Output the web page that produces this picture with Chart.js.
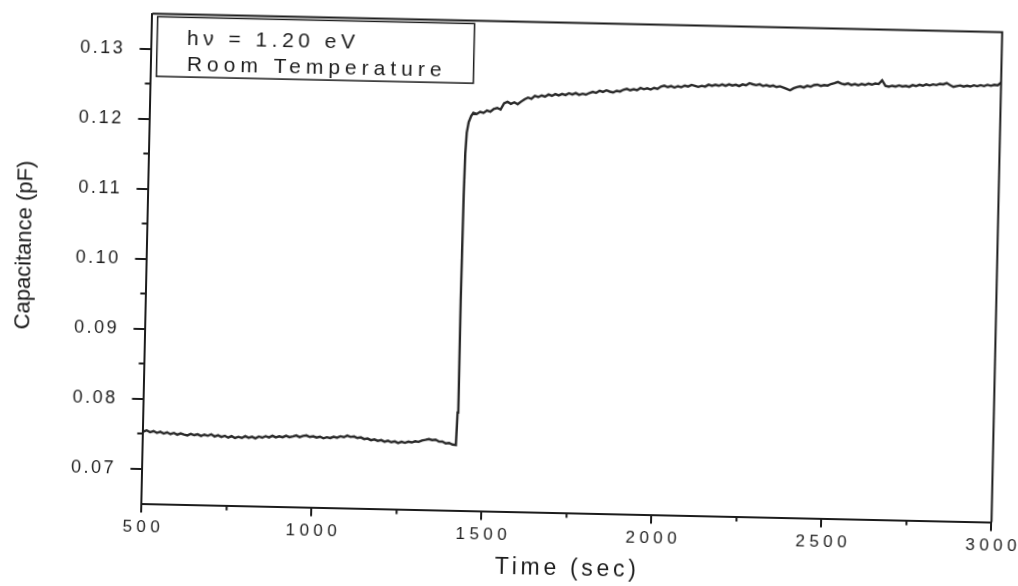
<!DOCTYPE html>
<html>
<head>
<meta charset="utf-8">
<script src="https://cdn.jsdelivr.net/npm/chart.js@4.4.1/dist/chart.umd.min.js"></script>
<style>
  html, body { margin: 0; padding: 0; background: #fff; overflow: hidden; width: 1018px; height: 586px; }
  #plot { display: block; transform: rotate(1.25deg); transform-origin: 509px 293px; }
</style>
</head>
<body>
<canvas id="plot" width="1040" height="600"></canvas>
<script>
// Photo-capacitance transient, hv = 1.20 eV, room temperature
const timeSec = [
  500, 510, 520, 530, 540, 550, 560, 570, 580, 590, 600, 610, 620, 630, 640, 650,
  660, 670, 680, 690, 700, 710, 720, 730, 740, 750, 760, 770, 780, 790, 800, 810,
  820, 830, 840, 850, 860, 870, 880, 890, 900, 910, 920, 930, 940, 950, 960, 970,
  980, 990, 1000, 1010, 1020, 1030, 1040, 1050, 1060, 1070, 1080, 1090, 1100, 1110,
  1120, 1130, 1140, 1150, 1160, 1170, 1180, 1190, 1200, 1210, 1220, 1230, 1240,
  1250, 1260, 1270, 1280, 1290, 1300, 1310, 1320, 1330, 1340, 1350, 1360, 1370,
  1380, 1390, 1400, 1410, 1420,
  1423, 1425, 1427, 1429, 1432, 1437, 1444,
  1450, 1460, 1470, 1480, 1490, 1500, 1510, 1520, 1530, 1540, 1550, 1560, 1570,
  1580, 1590, 1600, 1610, 1620, 1630, 1640, 1650, 1660, 1670, 1680, 1690, 1700,
  1710, 1720, 1730, 1740, 1750, 1760, 1770, 1780, 1790, 1800, 1810, 1820, 1830,
  1840, 1850, 1860, 1870, 1880, 1890, 1900, 1910, 1920, 1930, 1940, 1950, 1960,
  1970, 1980, 1990, 2000, 2010, 2020, 2030, 2040, 2050, 2060, 2070, 2080, 2090,
  2100, 2110, 2120, 2130, 2140, 2150, 2160, 2170, 2180, 2190, 2200, 2210, 2220,
  2230, 2240, 2250, 2260, 2270, 2280, 2290, 2300, 2310, 2320, 2330, 2340, 2350,
  2360, 2370, 2380, 2390, 2400, 2410, 2420, 2430, 2440, 2450, 2460, 2470, 2480,
  2490, 2500, 2510, 2520, 2530, 2540, 2550, 2560, 2570, 2580, 2590, 2600, 2610,
  2620, 2630, 2640, 2650, 2660, 2670, 2680, 2690, 2700, 2710, 2720, 2730, 2740,
  2750, 2760, 2770, 2780, 2790, 2800, 2810, 2820, 2830, 2840, 2850, 2860, 2870,
  2880, 2890, 2900, 2910, 2920, 2930, 2940, 2950, 2960, 2970, 2980, 2990, 3000
];
const capacitance = [
  0.07530, 0.07548, 0.07522, 0.07540, 0.07515, 0.07532, 0.07508, 0.07526, 0.07502, 0.07520,
  0.07496, 0.07515, 0.07500, 0.07488, 0.07512, 0.07494, 0.07508, 0.07486, 0.07505, 0.07490,
  0.07512, 0.07482, 0.07500, 0.07478, 0.07495, 0.07470, 0.07492, 0.07466, 0.07484, 0.07470,
  0.07496, 0.07475, 0.07490, 0.07468, 0.07495, 0.07480, 0.07502, 0.07485, 0.07510, 0.07488,
  0.07505, 0.07492, 0.07515, 0.07496, 0.07508, 0.07522, 0.07500, 0.07518, 0.07526, 0.07505,
  0.07515, 0.07498, 0.07512, 0.07490, 0.07506, 0.07495, 0.07515, 0.07502, 0.07524, 0.07512,
  0.07535, 0.07518, 0.07526, 0.07505, 0.07515, 0.07492, 0.07500, 0.07478, 0.07490, 0.07470,
  0.07482, 0.07460, 0.07476, 0.07455, 0.07468, 0.07446, 0.07464, 0.07450, 0.07468, 0.07458,
  0.07476, 0.07468, 0.07490, 0.07500, 0.07512, 0.07498, 0.07505, 0.07478, 0.07482, 0.07455,
  0.07462, 0.07440, 0.07436,
  0.07900, 0.09500, 0.11000, 0.11600, 0.11900, 0.12050, 0.12140,
  0.12185, 0.12170, 0.12200, 0.12188, 0.12222, 0.12205, 0.12248, 0.12262, 0.12240, 0.12330,
  0.12352, 0.12325, 0.12348, 0.12322, 0.12360, 0.12395, 0.12420, 0.12402, 0.12445, 0.12430,
  0.12455, 0.12438, 0.12470, 0.12452, 0.12478, 0.12460, 0.12482, 0.12468, 0.12495, 0.12478,
  0.12500, 0.12475, 0.12492, 0.12480, 0.12505, 0.12522, 0.12508, 0.12540, 0.12525, 0.12548,
  0.12530, 0.12520, 0.12545, 0.12535, 0.12562, 0.12575, 0.12555, 0.12572, 0.12560, 0.12592,
  0.12575, 0.12590, 0.12572, 0.12598, 0.12585, 0.12618, 0.12632, 0.12612, 0.12628, 0.12608,
  0.12630, 0.12615, 0.12640, 0.12628, 0.12652, 0.12640, 0.12625, 0.12642, 0.12632, 0.12660,
  0.12645, 0.12662, 0.12648, 0.12668, 0.12650, 0.12672, 0.12655, 0.12668, 0.12650, 0.12675,
  0.12662, 0.12695, 0.12680, 0.12668, 0.12682, 0.12658, 0.12672, 0.12655, 0.12668, 0.12648,
  0.12660, 0.12642, 0.12625, 0.12605, 0.12635, 0.12652, 0.12665, 0.12650, 0.12675, 0.12662,
  0.12688, 0.12695, 0.12678, 0.12690, 0.12685, 0.12708, 0.12720, 0.12740, 0.12718, 0.12705,
  0.12722, 0.12700, 0.12715, 0.12698, 0.12718, 0.12705, 0.12725, 0.12712, 0.12730, 0.12722,
  0.12778, 0.12700, 0.12688, 0.12702, 0.12692, 0.12710, 0.12695, 0.12705, 0.12692, 0.12718,
  0.12705, 0.12725, 0.12712, 0.12732, 0.12718, 0.12735, 0.12725, 0.12745, 0.12738, 0.12758,
  0.12730, 0.12705, 0.12718, 0.12728, 0.12712, 0.12725, 0.12715, 0.12735, 0.12722, 0.12738,
  0.12725, 0.12745, 0.12732, 0.12748, 0.12740, 0.12780
];

const xTicks = [500, 1000, 1500, 2000, 2500, 3000];
const xTickLabels = ['500', '1000', '1500', '2000', '2500', '3000'];
const xMinorTicks = [750, 1250, 1750, 2250, 2750];
const yTicks = [0.07, 0.08, 0.09, 0.10, 0.11, 0.12, 0.13];
const yTickLabels = ['0.07', '0.08', '0.09', '0.10', '0.11', '0.12', '0.13'];
const yMinorTicks = [0.075, 0.085, 0.095, 0.105, 0.115, 0.125];
const noteLines = ['h\u03bd = 1.20 eV', 'Room Temperature'];

const INK = '#1c1c1c';
const FONT = '"Liberation Sans", Arial, sans-serif';
Chart.defaults.font.family = FONT;
Chart.defaults.color = INK;

// run a scale drawing method with its own letter spacing and a small shift
function spaced(scale, method, spacing, dx, dy) {
  const orig = scale[method].bind(scale);
  scale[method] = function (area) {
    const c = scale.ctx;
    c.save();
    c.letterSpacing = spacing;
    c.translate(dx, dy);
    orig(area);
    c.restore();
  };
}

const frameAndNotes = {
  id: 'frameAndNotes',
  afterLayout(chart) {
    const { x, y } = chart.scales;
    if (!x._spaced) {
      spaced(x, 'drawLabels', '4.5px', 2.2, 0);
      spaced(x, 'drawTitle', '3.7px', 1.8, 0);
      x._spaced = true;
    }
    if (!y._spaced) {
      spaced(y, 'drawLabels', '2.5px', 0, 0);
      spaced(y, 'drawTitle', '0px', 0, -11);
      y._spaced = true;
    }
  },
  afterDraw(chart) {
    const { ctx, chartArea: a, scales: { x, y } } = chart;
    ctx.save();
    ctx.strokeStyle = INK;
    ctx.lineWidth = 2;
    // top and right edges of the frame
    ctx.beginPath();
    ctx.moveTo(a.left, a.top);
    ctx.lineTo(a.right, a.top);
    ctx.lineTo(a.right, a.bottom);
    ctx.stroke();
    // minor ticks
    ctx.beginPath();
    xMinorTicks.forEach(v => {
      const px = x.getPixelForValue(v);
      ctx.moveTo(px, a.bottom);
      ctx.lineTo(px, a.bottom + 5);
    });
    yMinorTicks.forEach(v => {
      const py = y.getPixelForValue(v);
      ctx.moveTo(a.left, py);
      ctx.lineTo(a.left - 6, py);
    });
    ctx.stroke();
    // note box
    const bx = a.left + 5.3, by = a.top + 2.8;
    ctx.lineWidth = 1.5;
    ctx.strokeRect(bx, by, 317, 59.7);
    ctx.fillStyle = INK;
    ctx.font = '21px ' + FONT;
    ctx.textAlign = 'left';
    ctx.textBaseline = 'alphabetic';
    ctx.letterSpacing = '4.5px';
    ctx.fillText(noteLines[0], bx + 29.8, by + 27.6);
    ctx.letterSpacing = '5px';
    ctx.fillText(noteLines[1], bx + 30.2, by + 53.3);
    ctx.restore();
  }
};

new Chart(document.getElementById('plot'), {
  type: 'line',
  data: {
    datasets: [{
      data: timeSec.map((t, i) => ({ x: t, y: capacitance[i] })),
      borderColor: '#2a2a2a',
      borderWidth: 2.4,
      pointRadius: 0,
      tension: 0,
      fill: false
    }]
  },
  options: {
    responsive: false,
    animation: false,
    devicePixelRatio: 1,
    layout: { padding: { left: 0, top: 21.6, right: 43.6, bottom: 14 } },
    plugins: { legend: { display: false }, tooltip: { enabled: false } },
    scales: {
      x: {
        type: 'linear',
        min: 500,
        max: 3000,
        afterBuildTicks: s => { s.ticks = xTicks.map(v => ({ value: v })); },
        afterFit: s => { s.height = 74.4; s.paddingLeft = 0; s.paddingRight = 0; },
        ticks: {
          autoSkip: false,
          maxRotation: 0,
          padding: 4.7,
          color: INK,
          font: { size: 17 },
          callback: (v, i) => xTickLabels[i]
        },
        grid: { display: true, drawOnChartArea: false, drawTicks: true, tickLength: 9, color: INK, lineWidth: 2 },
        border: { display: true, color: INK, width: 2 },
        title: {
          display: true,
          text: 'Time (sec)',
          color: INK,
          font: { size: 23 },
          padding: { top: 0, bottom: 5 }
        }
      },
      y: {
        type: 'linear',
        min: 0.065,
        max: 0.135,
        afterBuildTicks: s => { s.ticks = yTicks.map(v => ({ value: v })); },
        afterFit: s => { s.width = 146.4; s.paddingTop = 0; s.paddingBottom = 0; },
        ticks: {
          autoSkip: false,
          padding: 14.4,
          color: INK,
          font: { size: 18 },
          callback: (v, i) => yTickLabels[i]
        },
        grid: { display: true, drawOnChartArea: false, drawTicks: true, tickLength: 12, color: INK, lineWidth: 2 },
        border: { display: true, color: INK, width: 2 },
        title: {
          display: true,
          text: 'Capacitance (pF)',
          color: INK,
          font: { size: 22 },
          padding: { top: 10.3, bottom: 0 }
        }
      }
    }
  },
  plugins: [frameAndNotes]
});
</script>
</body>
</html>
